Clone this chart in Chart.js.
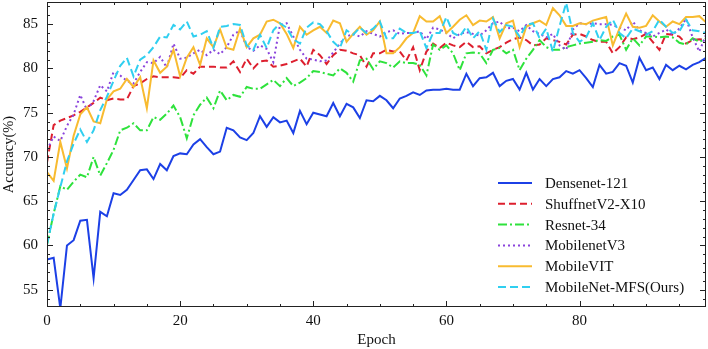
<!DOCTYPE html>
<html>
<head>
<meta charset="utf-8">
<script src="https://cdn.jsdelivr.net/npm/chart.js@4.4.1/dist/chart.umd.min.js"></script>
<style>
  html, body { margin: 0; padding: 0; background: #fff; }
  #wrap { width: 708px; height: 349px; position: relative; }
</style>
</head>
<body>
<div id="wrap"><canvas id="accChart"></canvas></div>
<script>
const epochs = Array.from({ length: 100 }, (_, i) => i);

const densenet = [58.4, 58.6, 52.9, 60.0, 60.6, 62.8, 62.9, 56.3, 63.8, 63.3,
  65.9, 65.7, 66.3, 67.4, 68.5, 68.6, 67.5, 69.2, 68.5, 70.1,
  70.4, 70.3, 71.4, 72.0, 71.1, 70.3, 70.6, 73.3, 73.0, 72.2,
  71.9, 72.7, 74.6, 73.4, 74.5, 73.9, 74.1, 72.7, 75.2, 73.7,
  75.0, 74.8, 74.6, 76.1, 74.6, 76.0, 75.6, 74.4, 76.4, 76.3,
  76.9, 76.4, 75.5, 76.6, 76.9, 77.3, 77.0, 77.5, 77.6, 77.6,
  77.7, 77.6, 77.6, 79.4, 78.0, 78.9, 79.0, 79.5, 78.0, 78.6,
  78.8, 77.6, 79.5, 77.6, 78.8, 78.0, 78.8, 79.0, 79.7, 79.4,
  79.8, 78.9, 77.9, 80.4, 79.4, 79.6, 80.6, 80.3, 78.4, 81.2,
  79.8, 80.1, 78.8, 80.4, 79.8, 80.3, 79.9, 80.4, 80.7, 81.2];

const shufflenet = [69.4, 73.6, 74.1, 74.4, 74.7, 75.1, 75.6, 76.1, 76.7, 76.4,
  76.6, 76.5, 76.5, 78.0, 78.3, 78.8, 79.1, 79.0, 79.0, 79.0,
  78.9, 79.8, 79.4, 80.2, 80.2, 80.2, 80.1, 80.1, 80.8, 79.6,
  81.1, 80.0, 80.8, 80.9, 80.2, 80.3, 80.5, 80.8, 81.1, 80.2,
  82.1, 81.5, 80.5, 81.5, 82.1, 82.0, 81.7, 81.5, 80.2, 81.7,
  81.7, 82.1, 81.9, 81.9, 80.9, 82.4, 79.8, 81.9, 82.8, 82.3,
  82.9, 82.6, 82.4, 83.0, 82.4, 82.5, 81.7, 82.1, 82.4, 82.9,
  83.3, 83.5, 83.2, 82.6, 82.7, 83.4, 83.2, 83.0, 82.7, 83.8,
  83.9, 83.6, 83.2, 83.0, 83.0, 81.7, 82.4, 83.5, 83.3, 83.5,
  83.9, 83.0, 82.1, 83.9, 83.8, 83.6, 82.8, 83.2, 83.3, 83.2];

const resnet = [60.1, 63.6, 66.7, 66.3, 67.2, 68.0, 67.7, 70.0, 67.9, 69.3,
  70.8, 73.0, 73.3, 73.8, 73.0, 73.0, 74.5, 74.2, 74.9, 75.8,
  74.5, 72.1, 74.7, 75.9, 76.7, 75.5, 77.5, 76.4, 77.0, 76.8,
  77.9, 77.7, 77.7, 78.2, 78.7, 78.0, 78.9, 78.0, 78.4, 78.9,
  79.7, 79.6, 79.4, 79.2, 80.0, 79.5, 78.5, 80.9, 81.1, 79.9,
  80.8, 80.6, 80.1, 80.8, 80.6, 80.6, 80.4, 79.2, 82.7, 82.1,
  82.6, 81.7, 79.8, 81.7, 81.8, 81.7, 80.6, 82.1, 82.3, 81.7,
  82.1, 79.8, 81.1, 82.1, 83.2, 82.4, 82.1, 82.1, 82.4, 82.6,
  82.8, 82.9, 83.0, 83.2, 83.1, 83.6, 83.8, 82.1, 83.4, 82.6,
  83.6, 83.6, 83.5, 83.6, 83.5, 82.9, 82.7, 83.4, 83.0, 83.4];

const mobilenetV3 = [70.8, 72.3, 71.8, 73.5, 74.8, 77.0, 75.3, 76.3, 78.1, 77.4,
  79.6, 79.2, 78.6, 78.3, 79.6, 80.7, 80.6, 81.3, 80.1, 82.8,
  81.1, 81.2, 81.7, 82.1, 81.5, 82.1, 81.6, 82.4, 83.8, 84.3,
  82.4, 82.0, 82.6, 82.2, 80.7, 84.9, 85.1, 83.6, 82.1, 81.1,
  81.0, 80.8, 80.9, 81.8, 82.8, 83.6, 83.9, 83.6, 84.2, 83.9,
  83.6, 84.1, 84.3, 83.9, 84.0, 84.0, 84.2, 83.3, 84.6, 84.4,
  84.0, 83.4, 83.9, 84.1, 83.9, 83.7, 84.3, 85.1, 85.3, 84.5,
  84.6, 84.2, 84.9, 84.2, 83.9, 83.5, 83.9, 82.6, 82.1, 84.4,
  85.1, 85.0, 85.1, 85.0, 85.0, 84.9, 84.6, 84.3, 85.3, 84.3,
  84.0, 83.6, 84.0, 84.4, 83.8, 84.5, 85.6, 83.5, 81.9, 83.8];

const mobileVit = [68.3, 67.3, 71.7, 68.7, 72.4, 74.8, 75.6, 74.0, 73.8, 76.5,
  77.4, 77.7, 78.8, 77.9, 79.0, 75.5, 80.9, 79.5, 80.2, 82.1,
  79.1, 81.2, 82.4, 80.4, 83.4, 82.4, 84.4, 82.3, 82.1, 84.5,
  82.4, 83.4, 83.8, 85.3, 85.5, 85.1, 83.9, 82.3, 84.7, 83.8,
  84.3, 84.7, 84.0, 85.4, 85.1, 83.0, 83.9, 84.7, 83.8, 84.3,
  85.3, 81.7, 81.7, 82.4, 83.4, 84.0, 85.9, 85.3, 85.3, 85.9,
  84.0, 84.7, 85.5, 86.0, 84.9, 85.4, 85.3, 85.8, 83.4, 85.1,
  85.4, 82.4, 84.7, 85.1, 85.4, 84.9, 86.8, 86.0, 84.8, 84.8,
  85.1, 85.0, 85.4, 85.6, 85.8, 82.6, 84.5, 86.2, 84.7, 84.6,
  84.8, 86.0, 85.3, 84.7, 85.3, 85.0, 85.8, 85.8, 85.9, 85.2];

const mobileNetMfs = [60.1, 63.6, 66.6, 69.5, 71.5, 73.1, 71.7, 73.0, 75.3, 76.8,
  78.6, 80.3, 81.2, 79.1, 81.0, 81.5, 82.4, 83.6, 83.5, 84.9,
  84.4, 85.3, 83.6, 83.8, 84.2, 82.3, 84.7, 84.8, 85.0, 84.9,
  82.6, 82.1, 83.8, 82.3, 84.3, 85.1, 84.6, 83.3, 82.8, 84.6,
  85.2, 85.0, 84.2, 83.0, 82.3, 84.3, 83.8, 84.6, 84.0, 84.5,
  85.3, 83.4, 83.4, 84.5, 84.0, 84.0, 84.2, 82.3, 84.0, 84.0,
  85.8, 84.0, 83.6, 84.7, 83.4, 84.2, 82.1, 85.6, 84.1, 84.9,
  84.7, 83.6, 84.9, 85.1, 83.4, 84.5, 81.9, 84.8, 87.4, 84.0,
  83.0, 83.5, 85.1, 83.2, 84.7, 85.5, 84.0, 83.4, 84.5, 84.2,
  83.8, 84.2, 85.5, 84.7, 84.0, 84.2, 85.5, 84.3, 84.2, 84.0];

const xTickValues = [0, 20, 40, 60, 80];
const yTickValues = [55, 60, 65, 70, 75, 80, 85];

const serif = "'Liberation Serif', 'Times New Roman', serif";

function series(label, values, color, dash, order) {
  return {
    label: label,
    data: values.map((v, i) => ({ x: epochs[i], y: v })),
    borderColor: color,
    backgroundColor: color,
    borderWidth: 2,
    borderDash: dash,
    pointRadius: 0,
    tension: 0,
    fill: false,
    order: order,
  };
}

// inward ticks on all four sides plus the box
const frameTicks = {
  id: "frameTicks",
  afterDraw(chart) {
    const { ctx, chartArea: a, scales } = chart;
    ctx.save();
    ctx.strokeStyle = "#222";
    ctx.lineWidth = 1;
    ctx.setLineDash([]);
    ctx.beginPath();
    for (let v = 0; v <= 99; v += 5) {
      const px = Math.round(scales.x.getPixelForValue(v)) + 0.5;
      const len = v % 20 === 0 ? 6 : 3;
      ctx.moveTo(px, a.bottom); ctx.lineTo(px, a.bottom - len);
      ctx.moveTo(px, a.top); ctx.lineTo(px, a.top + len);
    }
    for (let v = 54; v <= 87; v++) {
      const py = Math.round(scales.y.getPixelForValue(v)) + 0.5;
      const len = v % 5 === 0 ? 6 : 3;
      ctx.moveTo(a.left, py); ctx.lineTo(a.left + len, py);
      ctx.moveTo(a.right, py); ctx.lineTo(a.right - len, py);
    }
    ctx.stroke();
    ctx.strokeRect(Math.round(a.left) + 0.5, Math.round(a.top) + 0.5,
      Math.round(a.right - a.left) - 1, Math.round(a.bottom - a.top) - 1);
    ctx.restore();
  },
};

// legend drawn inside the plot, lower right
const insideLegend = {
  id: "insideLegend",
  afterDraw(chart) {
    const { ctx } = chart;
    const x0 = 498, x1 = 532, tx = 545, y0 = 183, step = 20.8;
    ctx.save();
    ctx.font = "15px " + serif;
    ctx.textBaseline = "middle";
    chart.data.datasets.forEach((ds, i) => {
      const y = y0 + i * step;
      ctx.strokeStyle = ds.borderColor;
      ctx.lineWidth = 2;
      ctx.setLineDash(ds.borderDash || []);
      ctx.beginPath();
      ctx.moveTo(x0, y);
      ctx.lineTo(x1, y);
      ctx.stroke();
      ctx.fillStyle = "#111";
      ctx.fillText(ds.label, tx, y + 1);
    });
    ctx.restore();
  },
};

function createAccuracyChart() {
  const data = {
    datasets: [
      series("Densenet-121", densenet, "#1c40e6", [], 6),
      series("ShuffnetV2-X10", shufflenet, "#dd1f2e", [7, 4], 5),
      series("Resnet-34", resnet, "#2ee23c", [9, 3, 2, 3], 4),
      series("MobilenetV3", mobilenetV3, "#8a44dc", [2, 3], 3),
      series("MobileVIT", mobileVit, "#f8bb30", [], 2),
      series("MobileNet-MFS(Ours)", mobileNetMfs, "#30cff0", [8, 4], 1),
    ],
  };

  const config = {
    type: "line",
    data: data,
    options: {
      responsive: true,
      maintainAspectRatio: false,
      animation: false,
      layout: { padding: { top: 2, right: 2, left: 0, bottom: 0 } },
      plugins: {
        legend: { display: false },
        tooltip: { enabled: false },
      },
      scales: {
        x: {
          type: "linear",
          min: 0,
          max: 99,
          afterBuildTicks: (s) => { s.ticks = xTickValues.map((v) => ({ value: v })); },
          afterFit: (s) => {
            s.height = 42;
            s.paddingLeft = 0;
            s.paddingRight = 0;
          },
          grid: { display: false, drawTicks: false },
          border: { display: false },
          ticks: { color: "#111", font: { family: serif, size: 15 }, padding: 5, maxRotation: 0 },
          title: { display: true, text: "Epoch", color: "#111", font: { family: serif, size: 15 }, padding: 0 },
        },
        y: {
          min: 53.05,
          max: 87.5,
          afterBuildTicks: (s) => { s.ticks = yTickValues.map((v) => ({ value: v })); },
          afterFit: (s) => {
            s.width = 47;
            s.paddingTop = 0;
            s.paddingBottom = 0;
          },
          grid: { display: false, drawTicks: false },
          border: { display: false },
          ticks: { color: "#111", font: { family: serif, size: 15 }, padding: 9 },
          title: { display: true, text: "Accuracy(%)", color: "#111", font: { family: serif, size: 14.5 }, padding: 0 },
        },
      },
    },
    plugins: [frameTicks, insideLegend],
  };

  const ctx = document.getElementById("accChart");
  new Chart(ctx, config);
}

document.addEventListener("DOMContentLoaded", () => {
  createAccuracyChart();
});
</script>
</body>
</html>
